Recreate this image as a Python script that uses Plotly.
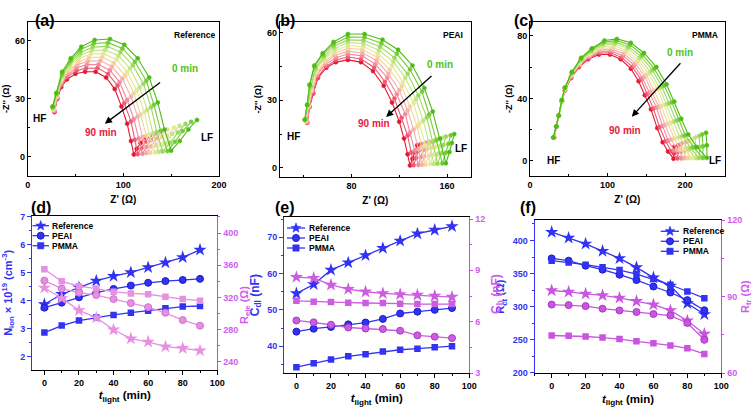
import math
import plotly.graph_objects as go

# ---------------- data ----------------
MINUTES = [0, 10, 20, 30, 40, 50, 60, 70, 80, 90]
CURVE_LABELS = ["0 min", "10 min", "20 min", "30 min", "40 min", "50 min", "60 min", "70 min", "80 min", "90 min"]

# (a) Reference Nyquist, one list per illumination time (0 -> 90 min)
A_ZRE = [
    [26, 30, 36, 45, 56, 70, 86, 101, 115, 127, 136, 143, 150, 159, 168, 177],
    [26, 30, 36, 45, 55, 69, 84, 99, 112, 124, 132, 139, 146, 154, 162, 171],
    [26, 30, 36, 44, 55, 68, 83, 97, 110, 121, 129, 135, 141, 149, 157, 165],
    [27, 30, 36, 44, 54, 67, 81, 95, 107, 117, 125, 131, 137, 144, 151, 159],
    [27, 30, 36, 43, 53, 66, 79, 93, 104, 114, 122, 127, 133, 139, 146, 153],
    [27, 31, 35, 43, 53, 64, 78, 90, 102, 111, 118, 124, 128, 134, 140, 146],
    [27, 31, 35, 42, 52, 63, 76, 88, 99, 108, 115, 120, 124, 129, 135, 140],
    [28, 31, 35, 42, 51, 62, 74, 86, 96, 104, 111, 116, 120, 124, 129, 134],
    [28, 31, 35, 41, 51, 61, 73, 84, 94, 101, 108, 112, 115, 119, 124, 128],
    [28, 31, 35, 41, 50, 60, 71, 82, 91, 98, 104, 108, 111, 114, 118, 122],
]
A_ZIM = [
    [26, 33, 44, 51, 57, 60.5, 61, 58, 51, 41, 28, 14, 3, 8, 14, 19],
    [25.7, 32.7, 43.1, 49.8, 55.4, 58.7, 59.1, 56.1, 49.2, 39.3, 26.8, 13.3, 2.8, 7.6, 13.2, 18],
    [25.3, 32.3, 42.2, 48.6, 53.9, 56.8, 57.2, 54.2, 47.4, 37.7, 25.6, 12.7, 2.6, 7.1, 12.4, 17],
    [25, 32, 41.3, 47.3, 52.3, 55, 55.3, 52.3, 45.7, 36, 24.3, 12, 2.3, 6.7, 11.7, 16],
    [24.7, 31.7, 40.4, 46.1, 50.8, 53.2, 53.4, 50.4, 43.9, 34.3, 23.1, 11.3, 2.1, 6.2, 10.9, 15],
    [24.3, 31.3, 39.6, 44.9, 49.2, 51.3, 51.6, 48.6, 42.1, 32.7, 21.9, 10.7, 1.9, 5.8, 10.1, 14],
    [24, 31, 38.7, 43.7, 47.7, 49.5, 49.7, 46.7, 40.3, 31, 20.7, 10, 1.7, 5.3, 9.3, 13],
    [23.7, 30.7, 37.8, 42.4, 46.1, 47.7, 47.8, 44.8, 38.6, 29.3, 19.4, 9.3, 1.4, 4.9, 8.6, 12],
    [23.3, 30.3, 36.9, 41.2, 44.6, 45.8, 45.9, 42.9, 36.8, 27.7, 18.2, 8.7, 1.2, 4.4, 7.8, 11],
    [23, 30, 36, 40, 43, 44, 44, 41, 35, 26, 17, 8, 1, 4, 7, 10],
]

# (b) PEAI Nyquist
B_ZRE = [
    [41, 43, 45, 49, 56, 65, 77, 91, 106, 119, 131, 141, 148, 154, 159, 162, 164, 166],
    [41, 43, 45, 49, 56, 65, 77, 91, 105, 118, 129, 139, 145, 151, 156, 159, 161, 163],
    [41, 43, 46, 50, 57, 65, 77, 90, 104, 116, 127, 136, 143, 148, 152, 155, 157, 159],
    [42, 44, 46, 50, 57, 66, 77, 90, 103, 115, 125, 134, 140, 145, 149, 152, 154, 156],
    [42, 44, 46, 50, 57, 66, 77, 90, 102, 114, 123, 132, 137, 142, 146, 148, 150, 152],
    [42, 44, 47, 51, 58, 66, 77, 89, 102, 112, 122, 129, 135, 139, 142, 145, 147, 149],
    [42, 44, 47, 51, 58, 66, 77, 89, 101, 111, 120, 127, 132, 136, 139, 141, 143, 145],
    [43, 45, 47, 51, 58, 67, 77, 89, 100, 110, 118, 125, 129, 133, 136, 138, 140, 142],
    [43, 45, 48, 52, 59, 67, 77, 88, 99, 108, 116, 122, 127, 130, 132, 134, 136, 138],
    [43, 45, 48, 52, 59, 67, 77, 88, 98, 107, 114, 120, 124, 127, 129, 131, 133, 135],
]
B_ZIM = [
    [21.5, 28, 37, 45.5, 51, 56, 59.5, 59.5, 57, 52.5, 45.5, 35.5, 25, 13, 2, 7, 11, 15],
    [21.3, 27.9, 36.6, 44.9, 50.3, 55, 58.2, 58.1, 55.4, 50.7, 43.7, 33.8, 23.7, 12.2, 1.9, 6.7, 10.6, 14.4],
    [21.2, 27.8, 36.1, 44.3, 49.6, 54, 56.9, 56.7, 53.9, 48.9, 41.8, 32.2, 22.3, 11.4, 1.8, 6.3, 10.1, 13.9],
    [21, 27.7, 35.7, 43.7, 48.8, 53, 55.7, 55.3, 52.3, 47.2, 40, 30.5, 21, 10.7, 1.7, 6, 9.7, 13.3],
    [20.8, 27.6, 35.2, 43.1, 48.1, 52, 54.4, 53.9, 50.8, 45.4, 38.2, 28.8, 19.7, 9.9, 1.6, 5.7, 9.2, 12.8],
    [20.7, 27.4, 34.8, 42.4, 47.4, 51, 53.1, 52.6, 49.2, 43.6, 36.3, 27.2, 18.3, 9.1, 1.4, 5.3, 8.8, 12.2],
    [20.5, 27.3, 34.3, 41.8, 46.7, 50, 51.8, 51.2, 47.7, 41.8, 34.5, 25.5, 17, 8.3, 1.3, 5, 8.3, 11.7],
    [20.3, 27.2, 33.9, 41.2, 45.9, 49, 50.6, 49.8, 46.1, 40.1, 32.7, 23.8, 15.7, 7.6, 1.2, 4.7, 7.9, 11.1],
    [20.2, 27.1, 33.4, 40.6, 45.2, 48, 49.3, 48.4, 44.6, 38.3, 30.8, 22.2, 14.3, 6.8, 1.1, 4.3, 7.4, 10.6],
    [20, 27, 33, 40, 44.5, 47, 48, 47, 43, 36.5, 29, 20.5, 13, 6, 1, 4, 7, 10],
]

# (c) PMMA Nyquist
C_ZRE = [
    [30, 34, 37, 41, 45, 54, 66, 80, 96, 112, 130, 147, 163, 176, 186, 195, 204, 215, 228, 228, 227],
    [30, 34, 37, 41, 45, 54, 66, 79, 95, 111, 129, 145, 160, 173, 183, 192, 200, 211, 223, 223, 222],
    [30, 34, 37, 41, 45, 54, 65, 79, 94, 110, 127, 143, 158, 170, 179, 188, 197, 207, 218, 219, 218],
    [30, 34, 37, 41, 45, 54, 65, 78, 94, 109, 126, 141, 155, 167, 176, 185, 193, 203, 214, 214, 213],
    [30, 34, 37, 41, 45, 54, 65, 78, 93, 108, 124, 139, 153, 164, 173, 181, 189, 199, 209, 209, 209],
    [31, 34, 37, 41, 45, 53, 64, 77, 92, 107, 123, 138, 150, 160, 169, 178, 186, 194, 204, 204, 204],
    [31, 34, 37, 41, 45, 53, 64, 77, 91, 106, 121, 136, 148, 157, 166, 174, 182, 190, 199, 200, 200],
    [31, 34, 37, 41, 45, 53, 64, 76, 91, 105, 120, 134, 145, 154, 163, 171, 178, 186, 195, 195, 195],
    [31, 34, 37, 41, 45, 53, 63, 76, 90, 104, 118, 132, 143, 151, 159, 167, 175, 182, 190, 190, 191],
    [31, 34, 37, 41, 45, 53, 63, 75, 89, 103, 117, 130, 140, 148, 156, 164, 171, 178, 185, 185.5, 186],
]
C_ZIM = [
    [15, 22, 29, 39, 47, 57, 66, 72, 77, 78, 75.5, 69, 60, 49, 38, 27, 17, 9, 2, 10, 18],
    [15, 22, 29, 38.9, 46.8, 56.6, 65.3, 71.2, 76, 76.9, 74.3, 67.9, 59, 48.2, 37.4, 26.3, 16.4, 8.7, 1.9, 9.4, 17],
    [15, 22, 29, 38.8, 46.6, 56.1, 64.7, 70.4, 75, 75.8, 73.2, 66.8, 58, 47.4, 36.9, 25.7, 15.9, 8.3, 1.9, 8.9, 16],
    [15, 22, 29, 38.7, 46.3, 55.7, 64, 69.7, 74, 74.7, 72, 65.7, 57, 46.7, 36.3, 25, 15.3, 8, 1.8, 8.3, 15],
    [15, 22, 29, 38.6, 46.1, 55.2, 63.3, 68.9, 73, 73.6, 70.8, 64.6, 56, 45.9, 35.8, 24.3, 14.8, 7.7, 1.8, 7.8, 14],
    [15, 22, 29, 38.4, 45.9, 54.8, 62.7, 68.1, 72, 72.4, 69.7, 63.4, 55, 45.1, 35.2, 23.7, 14.2, 7.3, 1.7, 7.2, 13],
    [15, 22, 29, 38.3, 45.7, 54.3, 62, 67.3, 71, 71.3, 68.5, 62.3, 54, 44.3, 34.7, 23, 13.7, 7, 1.7, 6.7, 12],
    [15, 22, 29, 38.2, 45.4, 53.9, 61.3, 66.6, 70, 70.2, 67.3, 61.2, 53, 43.6, 34.1, 22.3, 13.1, 6.7, 1.6, 6.1, 11],
    [15, 22, 29, 38.1, 45.2, 53.4, 60.7, 65.8, 69, 69.1, 66.2, 60.1, 52, 42.8, 33.6, 21.7, 12.6, 6.3, 1.6, 5.6, 10],
    [15, 22, 29, 38, 45, 53, 60, 65, 68, 68, 65, 59, 51, 42, 33, 21, 12, 6, 1.5, 5, 9],
]

# (d)
T_LIGHT = [0, 10, 20, 30, 40, 50, 60, 70, 80, 90]
NION_REF = [3.87, 4.23, 4.47, 4.71, 4.88, 5.01, 5.19, 5.36, 5.55, 5.82]
NION_PEAI = [3.75, 3.93, 4.12, 4.29, 4.42, 4.54, 4.64, 4.70, 4.74, 4.78]
NION_PMMA = [2.86, 3.11, 3.29, 3.40, 3.49, 3.57, 3.64, 3.73, 3.79, 3.81]
RELE_REF = [332, 319, 304, 295, 280, 269, 265, 259, 257, 254]
RELE_PEAI = [341, 331, 326, 323, 318, 313, 308, 301, 292, 285]
RELE_PMMA = [355, 340, 334, 331, 327, 325, 324, 321, 318, 316]
# (e)
CDL_REF = [54.5, 57, 61, 63, 65, 67, 69, 71, 72, 73]
CDL_PEAI = [44, 44.8, 45.3, 46, 46.5, 47.5, 49, 49.5, 50, 50.5]
CDL_PMMA = [34.2, 35.3, 36.3, 37.2, 37.8, 38.5, 39, 39.3, 39.7, 40]
CB_REF = [8.6, 8.55, 8.15, 7.9, 7.75, 7.65, 7.6, 7.56, 7.5, 7.44]
CB_PEAI = [6.07, 5.96, 5.82, 5.66, 5.6, 5.57, 5.47, 5.2, 5.12, 5.04]
CB_PMMA = [7.22, 7.17, 7.15, 7.11, 7.09, 7.09, 7.05, 7.03, 7.03, 7.03]
# (f)
RCT_REF = [412.7, 404, 395, 384, 373, 359.5, 344, 331.6, 305, 288.6]
RCT_PEAI = [373, 369.6, 362, 356, 348.4, 340.3, 330.6, 321.5, 310, 294.7]
RCT_PMMA = [369.6, 367, 363.5, 359.5, 355.4, 349.4, 341.8, 333.2, 323, 313]
RTR_REF = [92.4, 91.9, 91.1, 90.5, 89.5, 88.2, 86.9, 84.6, 80.6, 75.4]
RTR_PEAI = [86.9, 86.7, 86.3, 85.3, 84.6, 84, 83.2, 82.6, 79.7, 73.1]
RTR_PMMA = [74.8, 74.7, 74.4, 74, 73.4, 72.5, 71.8, 70.9, 69.8, 67.6]

SERIES_NAMES = ["Reference", "PEAI", "PMMA"]

# ---------------- style ----------------
F = "Liberation Sans, Arial, sans-serif"
BLUE = "#3232f2"
BLUE_DK = "#1c1cc8"
MAG = "#c846ea"
MAG_TXT = "#cf5cf0"
PINK_D = "#e690e2"
MAG_E = "#cc5ce0"
MAG_F = "#c855df"
CURVE_COLORS = ['#4dbd16', '#74cb35', '#9bd85c', '#c2e482', '#e2ea98',
                '#f5d49c', '#f5b0aa', '#f28a9c', '#ec5a76', '#e5182e']
SYMBOLS = ["star", "circle", "square"]
SYM_SIZE = [10, 7, 6.5]
TICK_SIZE = 9

W, H = 756, 408
def px(x):
    return x / W
def py(y):
    return 1 - y / H

fig = go.Figure()

# Nyquist panels
for ax_id, zre, zim in (("", A_ZRE, A_ZIM), ("2", B_ZRE, B_ZIM), ("3", C_ZRE, C_ZIM)):
    for k in range(len(MINUTES) - 1, -1, -1):
        fig.add_trace(go.Scatter(
            x=zre[k], y=zim[k], mode="lines+markers", name=CURVE_LABELS[k],
            line=dict(color=CURVE_COLORS[k], width=1.1),
            marker=dict(size=4, color=CURVE_COLORS[k], line=dict(width=0.6, color=CURVE_COLORS[k])),
            xaxis="x" + ax_id, yaxis="y" + ax_id, showlegend=False))

def add_series(xa, ya, yvals, sym_i, color, edge):
    fig.add_trace(go.Scatter(
        x=T_LIGHT, y=yvals, mode="lines+markers", name=SERIES_NAMES[sym_i],
        line=dict(color=color, width=1.3),
        marker=dict(symbol=SYMBOLS[sym_i], size=SYM_SIZE[sym_i], color=color,
                    line=dict(width=1 if sym_i == 1 else 0, color=edge)),
        xaxis=xa, yaxis=ya, showlegend=False))

# (d)
add_series("x4", "y7", RELE_REF, 0, PINK_D, "#d070d0")
add_series("x4", "y7", RELE_PEAI, 1, PINK_D, "#d070d0")
add_series("x4", "y7", RELE_PMMA, 2, PINK_D, "#d070d0")
add_series("x4", "y4", NION_REF, 0, BLUE, BLUE_DK)
add_series("x4", "y4", NION_PEAI, 1, BLUE, BLUE_DK)
add_series("x4", "y4", NION_PMMA, 2, BLUE, BLUE_DK)
# (e)
add_series("x5", "y8", CB_REF, 0, MAG_E, "#a83cc0")
add_series("x5", "y8", CB_PEAI, 1, MAG_E, "#a83cc0")
add_series("x5", "y8", CB_PMMA, 2, MAG_E, "#a83cc0")
add_series("x5", "y5", CDL_REF, 0, BLUE, BLUE_DK)
add_series("x5", "y5", CDL_PEAI, 1, BLUE, BLUE_DK)
add_series("x5", "y5", CDL_PMMA, 2, BLUE, BLUE_DK)
# (f)
add_series("x6", "y9", RTR_REF, 0, MAG_F, "#a83cc0")
add_series("x6", "y9", RTR_PEAI, 1, MAG_F, "#a83cc0")
add_series("x6", "y9", RTR_PMMA, 2, MAG_F, "#a83cc0")
add_series("x6", "y6", RCT_REF, 0, BLUE, BLUE_DK)
add_series("x6", "y6", RCT_PEAI, 1, BLUE, BLUE_DK)
add_series("x6", "y6", RCT_PMMA, 2, BLUE, BLUE_DK)

tf = dict(family=F, size=TICK_SIZE, color="black", weight="bold")

def top_x(dom, rng, dtick, mdtick, anchor):
    return dict(domain=dom, range=rng, anchor=anchor, automargin=False, showline=True, mirror=True,
                linecolor="black", linewidth=1, ticks="inside", ticklen=3, tickcolor="black",
                dtick=dtick, tick0=0,
                minor=dict(ticks="inside", ticklen=2, dtick=mdtick, tick0=0, tickcolor="black"),
                showgrid=False, zeroline=False, tickfont=tf,
                title=dict(text="<b>Z' (Ω)</b>", font=dict(family=F, size=10, color="black"), standoff=7))

def top_y(dom, rng, dtick, mdtick, anchor):
    return dict(domain=dom, range=rng, anchor=anchor, automargin=False, showline=True, mirror=True,
                linecolor="black", linewidth=1, ticks="inside", ticklen=3, tickcolor="black",
                dtick=dtick, tick0=0,
                minor=dict(ticks="inside", ticklen=2, dtick=mdtick, tick0=0, tickcolor="black"),
                showgrid=False, zeroline=False, tickfont=tf,
                title=dict(text="<b>-Z'' (Ω)</b>", font=dict(family=F, size=9, color="black"), standoff=3))

def bot_x(dom, rng, anchor):
    return dict(domain=dom, range=rng, anchor=anchor, automargin=False, showline=True, mirror=True,
                linecolor="black", linewidth=1, ticks="outside", ticklen=4, tickcolor="black",
                dtick=20, tick0=0,
                minor=dict(ticks="outside", ticklen=2, dtick=10, tick0=0, tickcolor="black"),
                showgrid=False, zeroline=False, tickfont=tf,
                title=dict(text="<b><i>t</i><sub>light</sub> (min)</b>",
                           font=dict(family=F, size=11.5, color="black"), standoff=4))

def bot_yl(dom, rng, dtick, mdtick, anchor, title, tsize):
    return dict(domain=dom, range=rng, anchor=anchor, automargin=False, showline=True, mirror=False,
                linecolor=BLUE, linewidth=1.3, ticks="outside", ticklen=4, tickcolor=BLUE,
                dtick=dtick, tick0=0,
                minor=dict(ticks="outside", ticklen=2, dtick=mdtick, tick0=0, tickcolor=BLUE),
                showgrid=False, zeroline=False,
                tickfont=dict(family=F, size=TICK_SIZE, color=BLUE, weight="bold"),
                title=dict(text=title, font=dict(family=F, size=tsize, color=BLUE), standoff=5))

def bot_yr(over, rng, dtick, mdtick, anchor):
    return dict(overlaying=over, side="right", range=rng, anchor=anchor, automargin=False,
                showline=True, linecolor=MAG, linewidth=1.3, ticks="outside", ticklen=3,
                tickcolor=MAG, dtick=dtick, tick0=0,
                minor=dict(ticks="outside", ticklen=2, dtick=mdtick, tick0=0, tickcolor=MAG),
                showgrid=False, zeroline=False,
                tickfont=dict(family=F, size=TICK_SIZE, color=MAG_TXT, weight="bold"))

DA = ([px(27.7), px(219)], [py(175.7), py(21.7)])
DB = ([px(279.7), px(471)], [py(176.7), py(21.7)])
DC = ([px(530), px(724.7)], [py(175.7), py(21.7)])
DD = ([px(32.3), px(217.3)], [py(370), py(215.7)])
DE = ([px(284.3), px(469.3)], [py(373), py(217.3)])
DF = ([px(534.7), px(721.3)], [py(373.3), py(220)])

fig.update_layout(
    width=W, height=H, margin=dict(l=0, r=0, t=0, b=0, autoexpand=False),
    paper_bgcolor="white", plot_bgcolor="white", showlegend=False,
    font=dict(family=F, color="black"),
    xaxis=top_x(DA[0], [0, 200], 100, 50, "y"),
    yaxis=top_y(DA[1], [-10, 70], 30, 15, "x"),
    xaxis2=top_x(DB[0], [20, 180], 80, 40, "y2"),
    yaxis2=top_y(DB[1], [-4, 65], 30, 15, "x2"),
    xaxis3=top_x(DC[0], [0, 251], 100, 50, "y3"),
    yaxis3=top_y(DC[1], [-9.4, 89], 40, 20, "x3"),
    xaxis4=bot_x(DD[0], [-7, 100], "y4"),
    yaxis4=bot_yl(DD[1], [1.52, 7.04], 1, 0.5, "x4",
                  "<b>N<sub>ion</sub> × 10<sup>19</sup> (cm<sup>-3</sup>)</b>", 11),
    yaxis7=bot_yr("y4", [230, 421.5], 40, 20, "x4"),
    xaxis5=bot_x(DE[0], [-7, 100], "y5"),
    yaxis5=bot_yl(DE[1], [32.6, 75.5], 10, 5, "x5", "<b>C<sub>dl</sub> (nF)</b>", 12),
    yaxis8=bot_yr("y5", [3, 12.1], 3, 1.5, "x5"),
    xaxis6=bot_x(DF[0], [-10, 100], "y6"),
    yaxis6=bot_yl(DF[1], [199.5, 431], 50, 25, "x6", "<b>R<sub>ct</sub> (Ω)</b>", 11),
    yaxis9=bot_yr("y6", [60, 120], 30, 15, "x6"),
)

ann = []
# panel labels
for lab, x, y in (("(a)", 34, 11), ("(b)", 285, 11), ("(c)", 535, 11),
                  ("(d)", 30, 207), ("(e)", 285, 207), ("(f)", 537, 207)):
    ann.append(dict(text="<b>" + lab + "</b>", x=px(x), y=py(y), xref="paper", yref="paper",
                    showarrow=False, borderpad=0, font=dict(family=F, size=16, color="black")))
# sample names in top panels
for lab, x in (("Reference", 217), ("PEAI", 465), ("PMMA", 720)):
    ann.append(dict(text="<b>" + lab + "</b>", x=px(x), y=py(28.5), xref="paper", yref="paper",
                    xanchor="right", showarrow=False, font=dict(family=F, size=8.5, color="black")))
# right-axis titles of the bottom panels
for lab, x, y, s in (("<b>R<sub>ele</sub> (Ω)</b>", 245, 305, 11),
                     ("<b>C<sub>b</sub> (nF)</b>", 497, 294, 12),
                     ("<b>R<sub>tr</sub> (Ω)</b>", 746, 297, 11)):
    ann.append(dict(text=lab, x=px(x), y=py(y), xref="paper", yref="paper", textangle=-90,
                    showarrow=False, xanchor="center", yanchor="middle", borderpad=0,
                    font=dict(family=F, size=s, color=MAG_TXT)))

GREEN_T = "#4fc21a"
RED_T = "#e8193a"
top_txt = [
    # axis id, 0min pos, 90min pos, arrow tail, arrow head, HF pos, LF pos
    ("", (164, 45.5), (77, 12.4), (140, 39), (80.6, 17), (12.6, 19.7), (187, 10)),
    ("2", (154, 46), (99, 19.7), (148.2, 41.4), (109, 22.6), (31.7, 14), (172, 8.6)),
    ("3", (193.5, 69.4), (122.6, 19.8), (195.7, 63.4), (131.2, 28.3), (30, 0), (238.7, 0)),
]
for a, p0, p90, tail, head, hf, lf in top_txt:
    xr, yr = "x" + a, "y" + a
    ann.append(dict(text="<b>0 min</b>", x=p0[0], y=p0[1], xref=xr, yref=yr, showarrow=False,
                    font=dict(family=F, size=10, color=GREEN_T)))
    ann.append(dict(text="<b>90 min</b>", x=p90[0], y=p90[1], xref=xr, yref=yr, showarrow=False,
                    font=dict(family=F, size=10, color=RED_T)))
    ann.append(dict(text="", x=head[0], y=head[1], ax=tail[0], ay=tail[1], xref=xr, yref=yr,
                    axref=xr, ayref=yr, showarrow=True, arrowhead=2, arrowsize=1.1, arrowwidth=1.3,
                    arrowcolor="black"))
    ann.append(dict(text="<b>HF</b>", x=hf[0], y=hf[1], xref=xr, yref=yr, showarrow=False,
                    font=dict(family=F, size=10, color="black")))
    ann.append(dict(text="<b>LF</b>", x=lf[0], y=lf[1], xref=xr, yref=yr, showarrow=False,
                    font=dict(family=F, size=10, color="black")))

# manual legends for bottom panels (keys drawn as shapes)
shapes = []

def star_path(cx, cy, ro=5.2, ri=2.2):
    pts = []
    for j in range(10):
        r = ro if j % 2 == 0 else ri
        ang = -math.pi / 2 + j * math.pi / 5
        pts.append((px(cx + r * math.cos(ang)), py(cy + r * math.sin(ang))))
    return "M " + " L ".join("%.5f,%.5f" % p for p in pts) + " Z"

legends = [
    (32.5, 49, 40.7, 51, [225.7, 235.7, 245.7]),
    (287, 305, 296, 308, [228, 238, 248]),
    (660.7, 679, 670, 682.3, [231.3, 241.3, 251.3]),
]
for x0, x1, xm, xt, rows in legends:
    for i, yy in enumerate(rows):
        shapes.append(dict(type="line", xref="paper", yref="paper", x0=px(x0), x1=px(x1),
                           y0=py(yy), y1=py(yy), line=dict(color=BLUE, width=1.3)))
        if i == 0:
            shapes.append(dict(type="path", xref="paper", yref="paper", path=star_path(xm, yy),
                               fillcolor=BLUE, line=dict(color=BLUE, width=0.5)))
        elif i == 1:
            shapes.append(dict(type="circle", xref="paper", yref="paper",
                               x0=px(xm - 3.5), x1=px(xm + 3.5), y0=py(yy + 3.5), y1=py(yy - 3.5),
                               fillcolor=BLUE, line=dict(color=BLUE_DK, width=1)))
        else:
            shapes.append(dict(type="rect", xref="paper", yref="paper",
                               x0=px(xm - 3.2), x1=px(xm + 3.2), y0=py(yy + 3.2), y1=py(yy - 3.2),
                               fillcolor=BLUE, line=dict(color=BLUE, width=0.5)))
        ann.append(dict(text="<b>" + SERIES_NAMES[i] + "</b>", x=px(xt), y=py(yy), xref="paper",
                        yref="paper", showarrow=False, xanchor="left", yanchor="middle", borderpad=0,
                        font=dict(family=F, size=8.5, color="black")))

fig.update_layout(annotations=ann, shapes=shapes)
fig.write_html("out.html", config={"displayModeBar": False},
               post_script="document.body.style.margin='0';document.body.style.padding='0';"
                           "document.documentElement.style.overflow='hidden';")
